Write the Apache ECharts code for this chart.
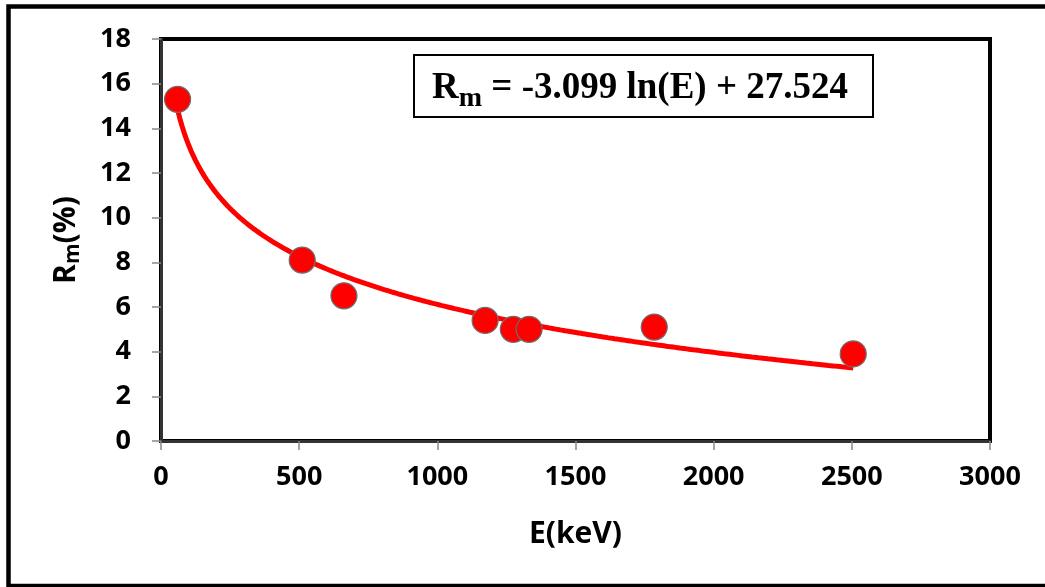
<!DOCTYPE html>
<html><head><meta charset="utf-8">
<script src="https://cdn.jsdelivr.net/npm/echarts@6/dist/echarts.min.js"></script>
<style>html,body{margin:0;padding:0;background:#fff}#c{width:1045px;height:587px}</style>
</head><body><div id="c"></div>
<script>
// Measured data: gamma energy (keV) vs energy resolution Rm (%)
const energies = [60, 511, 662, 1173, 1275, 1332, 1785, 2505];
const resolutions = [15.3, 8.1, 6.5, 5.4, 5.0, 5.0, 5.1, 3.9];
// Logarithmic trendline coefficients shown in the chart
const fitSlope = -3.099;
const fitIntercept = 27.524;
const xAxisRange = [0, 3000];
const yAxisRange = [0, 18];
const xStep = 500;
const yStep = 2;
const equationText = ' = -3.099 ln(E) + 27.524';

const scatterData = energies.map((e, i) => [e, resolutions[i]]);
const eMin = Math.min(...energies), eMax = Math.max(...energies);
const trend = [];
const N = 300;
for (let i = 0; i <= N; i++) {
  const e = eMin + (eMax - eMin) * i / N;
  trend.push([e, fitSlope * Math.log(e) + fitIntercept]);
}

const FONT = '"Open Sans", Lato, sans-serif';
const SERIF = '"Liberation Serif", "Times New Roman", serif';
const chart = echarts.init(document.getElementById('c'), null, {renderer: 'canvas'});
chart.setOption({
  animation: false,
  backgroundColor: '#fff',
  grid: {left: 161, right: 55, top: 39, bottom: 146, show: true, borderColor: '#000', borderWidth: 4, backgroundColor: '#fff'},
  xAxis: {
    type: 'value', min: xAxisRange[0], max: xAxisRange[1], interval: xStep,
    splitLine: {show: false},
    axisLine: {show: true, onZero: false, lineStyle: {color: '#333', width: 3}},
    axisTick: {show: true, length: 9, lineStyle: {color: '#888', width: 1.5}},
    axisLabel: {margin: 23, color: '#000', fontFamily: FONT, fontWeight: 'bold', fontSize: 27,
      formatter: v => String(v)},
    name: 'E(keV)', nameLocation: 'middle', nameGap: 78,
    nameTextStyle: {color: '#000', fontFamily: FONT, fontWeight: 'bold', fontSize: 30}
  },
  yAxis: {
    type: 'value', min: yAxisRange[0], max: yAxisRange[1], interval: yStep,
    splitLine: {show: false},
    axisLine: {show: true, onZero: false, lineStyle: {color: '#333', width: 3}},
    axisTick: {show: true, length: 9, lineStyle: {color: '#888', width: 1.5}},
    axisLabel: {margin: 30, color: '#000', fontFamily: FONT, fontWeight: 'bold', fontSize: 27,
      formatter: v => String(v)},
    name: '{a|R}{b|m}{a|(%)}', nameLocation: 'middle', nameGap: 76, nameRotate: 90,
    nameTextStyle: {
      color: '#000', fontFamily: FONT, fontWeight: 'bold', fontSize: 30,
      rich: {
        a: {color: '#000', fontFamily: FONT, fontWeight: 'bold', fontSize: 30, lineHeight: 38},
        b: {color: '#000', fontFamily: FONT, fontWeight: 'bold', fontSize: 21, lineHeight: 38, padding: [14, 0, 0, 0]}
      }
    }
  },
  series: [
    {
      type: 'line', data: trend, showSymbol: false, symbol: 'none', z: 2,
      lineStyle: {color: '#ff0000', width: 5}
    },
    {
      type: 'scatter', data: scatterData, symbol: 'circle', symbolSize: 26, z: 3,
      itemStyle: {color: '#ff0000', opacity: 1, borderColor: '#6e6e6e', borderWidth: 1.2}
    }
  ],
  graphic: [
    {type: 'rect', z: 100, silent: true,
     shape: {x: 8.5, y: 6.5, width: 1100, height: 579.5},
     style: {fill: 'none', stroke: '#000', lineWidth: 4.5}},
    {type: 'rect', z: 100, silent: true,
     shape: {x: 414, y: 55, width: 459, height: 62},
     style: {fill: '#fff', stroke: '#000', lineWidth: 2}},
    {type: 'text', z: 101, silent: true, left: 432, top: 63,
     style: {
       text: '{r|R}{s|m}{r|' + equationText + '}',
       rich: {
         r: {fontFamily: SERIF, fontWeight: 'bold', fontSize: 37, fill: '#000', lineHeight: 44},
         s: {fontFamily: SERIF, fontWeight: 'bold', fontSize: 28, fill: '#000', lineHeight: 44, padding: [22, 0, 0, 0]}
       }
     }}
  ]
});
</script></body></html>
